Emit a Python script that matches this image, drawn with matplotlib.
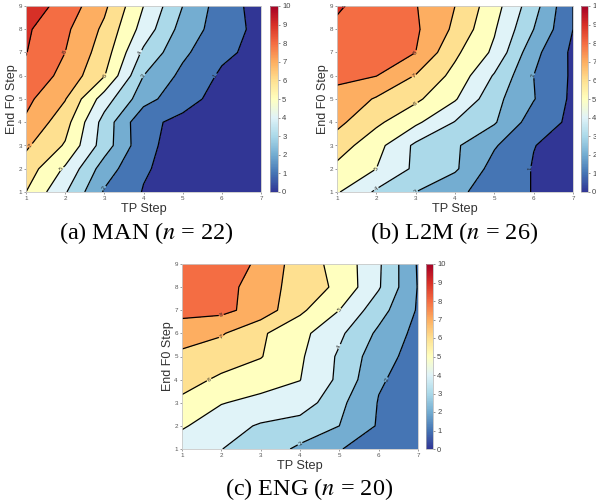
import numpy as np
import matplotlib.pyplot as plt
from matplotlib.colors import ListedColormap, LinearSegmentedColormap, Normalize
import matplotlib.cm as cm

plt.rcParams['font.family'] = ['Liberation Sans', 'DejaVu Sans']
plt.rcParams['mathtext.fontset'] = 'stix'

tp_steps = [1, 2, 3, 4, 5, 6, 7]
f0_steps = [1, 2, 3, 4, 5, 6, 7, 8, 9]

# rows = End F0 step 1..9, columns = TP step 1..7
man = [
    [6.0, 4.1, 1.9, 0.95, 0.5, 0.3, 0.2],
    [6.55, 4.85, 2.5, 1.1, 0.6, 0.4, 0.3],
    [7.15, 5.9, 3.5, 1.3, 0.5, 0.4, 0.3],
    [7.85, 6.4, 3.6, 1.2, 0.8, 0.5, 0.4],
    [8.25, 7.05, 4.5, 2.4, 1.3, 0.7, 0.4],
    [8.6, 7.75, 6.05, 3.0, 1.75, 0.85, 0.5],
    [9.03, 8.0, 6.5, 3.8, 2.2, 1.2, 0.7],
    [9.15, 8.2, 6.8, 4.6, 2.6, 1.5, 0.7],
    [9.6, 8.6, 7.2, 5.0, 3.0, 1.5, 0.6],
]
l2m = [
    [5.1, 3.85, 3.0, 2.2, 1.6, 0.95, 0.6],
    [5.75, 5.0, 3.8, 3.15, 1.6, 0.95, 0.7],
    [6.5, 5.35, 3.8, 3.15, 2.1, 1.02, 0.7],
    [7.25, 6.2, 5.2, 3.95, 3.1, 1.5, 0.8],
    [7.75, 6.9, 6.2, 5.1, 3.3, 2.05, 0.8],
    [8.17, 8.02, 6.95, 5.7, 3.9, 2.0, 0.85],
    [8.5, 8.25, 8.0, 6.2, 4.8, 2.3, 0.8],
    [8.85, 8.6, 8.15, 6.8, 5.1, 3.0, 1.0],
    [9.1, 8.6, 8.05, 7.0, 5.4, 3.4, 1.0],
]
eng = [
    [4.4, 4.02, 3.45, 2.85, 2.05, 1.5, 1.2],
    [5.12, 4.4, 3.9, 3.5, 3.0, 1.9, 1.4],
    [5.82, 5.05, 4.7, 4.6, 3.25, 1.95, 1.5],
    [6.33, 5.85, 5.45, 5.02, 3.8, 2.1, 1.6],
    [6.78, 6.4, 6.05, 5.15, 3.85, 2.4, 1.6],
    [7.46, 7.1, 6.15, 5.3, 4.2, 2.8, 1.7],
    [8.3, 8.25, 7.6, 6.2, 5.0, 3.4, 1.9],
    [8.5, 8.4, 7.5, 6.55, 5.8, 4.1, 1.95],
    [8.6, 8.45, 7.85, 6.45, 5.7, 4.15, 1.9],
]

captions = ["(a) MAN ($n$ = 22)", "(b) L2M ($n$ = 26)", "(c) ENG ($n$ = 20)"]
datasets = [man, l2m, eng]

rdylbu = ['#313695', '#4575b4', '#74add1', '#abd9e9', '#e0f3f8', '#ffffbf',
          '#fee090', '#fdae61', '#f46d43', '#d73027', '#a50026']
band_cmap = ListedColormap(rdylbu[:10])
bar_cmap = LinearSegmentedColormap.from_list('rdylbu', rdylbu)

W, H = 596, 503
# pixel boxes: axes (left, top, right, bottom), colorbar (left, right), caption centre
layout = [
    dict(ax=(26, 6, 261, 192), cb=(270, 278), cap=(146, 233)),
    dict(ax=(337, 6, 573, 192), cb=(581, 588), cap=(454, 233)),
    dict(ax=(182, 264, 418, 449), cb=(426, 433), cap=(309, 489)),
]

fig = plt.figure(figsize=(W / 100, H / 100), dpi=100)
X, Y = np.meshgrid(tp_steps, f0_steps)
levels = np.arange(0, 11)

for cap, data, lay in zip(captions, datasets, layout):
    l, t, r, b = lay['ax']
    ax = fig.add_axes([l / W, 1 - b / H, (r - l) / W, (b - t) / H])
    Z = np.array(data)
    ax.contourf(X, Y, Z, levels=levels, cmap=band_cmap, vmin=0, vmax=10)
    cs = ax.contour(X, Y, Z, levels=levels[1:-1], colors='k', linewidths=0.9)
    ax.clabel(cs, fmt='%d', fontsize=4, inline_spacing=1, colors='#222222')
    ax.set_xlim(1, 7)
    ax.set_ylim(1, 9)
    ax.set_xticks(tp_steps)
    ax.set_yticks(f0_steps)
    ax.tick_params(labelsize=4.5, colors='#555555', length=1.5, width=0.4, pad=1.5)
    for s in ax.spines.values():
        s.set_color('#c8c8c8')
        s.set_linewidth(0.6)
    ax.set_xlabel('TP Step', fontsize=9.2, color='#333333', labelpad=1.5)
    ax.set_ylabel('End F0 Step', fontsize=9, color='#333333', labelpad=0.5)

    cl, cr = lay['cb']
    cax = fig.add_axes([cl / W, 1 - b / H, (cr - cl) / W, (b - t) / H])
    cb = fig.colorbar(cm.ScalarMappable(norm=Normalize(0, 10), cmap=bar_cmap),
                      cax=cax, ticks=levels)
    cb.outline.set_edgecolor('#b0b0b0')
    cb.outline.set_linewidth(0.5)
    cax.tick_params(labelsize=5.5, colors='#444444', length=1.5, width=0.4, pad=1.5)

    cx, cy = lay['cap']
    fig.text(cx / W, 1 - cy / H, cap, ha='center', va='center', fontsize=17.5,
             family='Liberation Serif')

fig.savefig('out.png', dpi=100)
